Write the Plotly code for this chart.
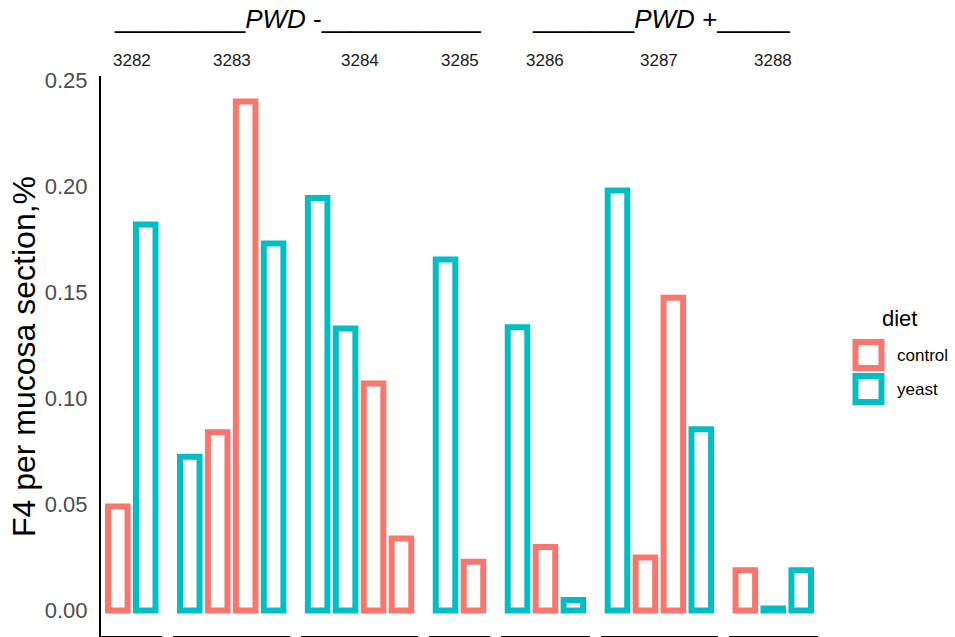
import plotly.graph_objects as go
from plotly.subplots import make_subplots

# ---- data -------------------------------------------------------------
facet_ids = ["3282", "3283", "3284", "3285", "3286", "3287", "3288"]
facet_group = ["PWD -", "PWD -", "PWD -", "PWD -", "PWD +", "PWD +", "PWD +"]

bar_facet = ["3282", "3282",
             "3283", "3283", "3283", "3283",
             "3284", "3284", "3284", "3284",
             "3285", "3285",
             "3286", "3286", "3286",
             "3287", "3287", "3287", "3287",
             "3288", "3288", "3288"]
bar_diet = ["control", "yeast",
            "yeast", "control", "control", "yeast",
            "yeast", "yeast", "control", "control",
            "yeast", "control",
            "yeast", "control", "yeast",
            "yeast", "control", "control", "yeast",
            "control", "yeast", "yeast"]
bar_value = [0.049, 0.182,
             0.0725, 0.084, 0.240, 0.173,
             0.1945, 0.133, 0.107, 0.034,
             0.1655, 0.023,
             0.1335, 0.030, 0.005,
             0.198, 0.025, 0.1475, 0.0855,
             0.019, 0.001, 0.019]

diet_levels = ["control", "yeast"]
y_ticks = [0.00, 0.05, 0.10, 0.15, 0.20, 0.25]

# ---- styling ----------------------------------------------------------
diet_colors = {"control": "#F8766D", "yeast": "#00BFC4"}
FONT = "Liberation Sans, Arial, sans-serif"
W, H = 955, 637
L, R, T, B = 101, 137, 76, 1
PW, PH = W - L - R, H - T - B


def px_x(px):
    return (px - L) / PW


def px_y(py):
    return (H - B - py) / PH


counts = [bar_facet.count(f) for f in facet_ids]
fig = make_subplots(rows=1, cols=len(facet_ids), shared_yaxes=True,
                    column_widths=[n + 0.2 for n in counts],
                    horizontal_spacing=10.5 / PW)

for i, f in enumerate(facet_ids):
    idx = [k for k, bf in enumerate(bar_facet) if bf == f]
    fig.add_trace(go.Bar(
        x=list(range(len(idx))),
        y=[bar_value[k] for k in idx],
        width=0.7,
        marker=dict(color="rgba(0,0,0,0)",
                    line=dict(color=[diet_colors[bar_diet[k]] for k in idx], width=6)),
        customdata=[bar_diet[k] for k in idx],
        hovertemplate="%{customdata}: %{y}<extra>" + f + "</extra>",
        showlegend=False,
    ), row=1, col=i + 1)
    fig.update_xaxes(range=[-0.6, len(idx) - 0.4], showline=True, linecolor="black",
                     linewidth=2, showticklabels=False, showgrid=False, zeroline=False,
                     ticks="", row=1, col=i + 1)
    fig.update_yaxes(range=[-0.012, 0.252], showgrid=False, zeroline=False,
                     showline=(i == 0), linecolor="black", linewidth=2,
                     row=1, col=i + 1)

fig.update_yaxes(tickvals=y_ticks, tickformat=".2f", ticks="",
                 tickfont=dict(size=22, color="#4D4D4D", family=FONT),
                 ticklabelstandoff=7, row=1, col=1)

annotations = []
# facet strip labels
for i, f in enumerate(facet_ids):
    dom = fig.layout[f"xaxis{'' if i == 0 else i + 1}"].domain
    annotations.append(dict(x=(dom[0] + dom[1]) / 2, y=px_y(60), xref="paper", yref="paper",
                            text=f, showarrow=False, xanchor="center", yanchor="middle",
                            font=dict(size=17, color="#1A1A1A", family=FONT)))

# group headers spanning the facets of each group
header_text = {"PWD -": "_________<i>PWD</i> -___________",
               "PWD +": "_______<i>PWD</i> +_____"}
for g in ["PWD -", "PWD +"]:
    cols = [i for i, fg in enumerate(facet_group) if fg == g]
    d0 = fig.layout[f"xaxis{'' if cols[0] == 0 else cols[0] + 1}"].domain
    d1 = fig.layout[f"xaxis{'' if cols[-1] == 0 else cols[-1] + 1}"].domain
    annotations.append(dict(x=(d0[0] + d1[1]) / 2 + 2 / PW, y=px_y(19), xref="paper", yref="paper",
                            text=header_text[g], showarrow=False,
                            xanchor="center", yanchor="middle",
                            font=dict(size=26, color="black", family=FONT)))

# y axis title
annotations.append(dict(x=px_x(24), y=px_y(357), xref="paper", yref="paper",
                        text="F4 per mucosa section,%", textangle=-90, showarrow=False,
                        xanchor="center", yanchor="middle",
                        font=dict(size=32, color="black", family=FONT)))

# legend
annotations.append(dict(x=px_x(880), y=px_y(318), xref="paper", yref="paper", text="diet",
                        showarrow=False, xanchor="left", yanchor="middle",
                        font=dict(size=22, color="black", family=FONT)))
shapes = []
for j, d in enumerate(diet_levels):
    top = 342 + j * 34
    shapes.append(dict(type="rect", xref="paper", yref="paper",
                       x0=px_x(855.5), x1=px_x(881.5), y0=px_y(top), y1=px_y(top + 26),
                       line=dict(color=diet_colors[d], width=6), fillcolor="white"))
    annotations.append(dict(x=px_x(895), y=px_y(top + 13), xref="paper", yref="paper", text=d,
                            showarrow=False, xanchor="left", yanchor="middle",
                            font=dict(size=17, color="black", family=FONT)))

fig.update_layout(width=W, height=H, margin=dict(l=L, r=R, t=T, b=B, autoexpand=False),
                  plot_bgcolor="white", paper_bgcolor="white", showlegend=False,
                  annotations=annotations, shapes=shapes,
                  font=dict(family=FONT))

fig.write_html("out.html")
